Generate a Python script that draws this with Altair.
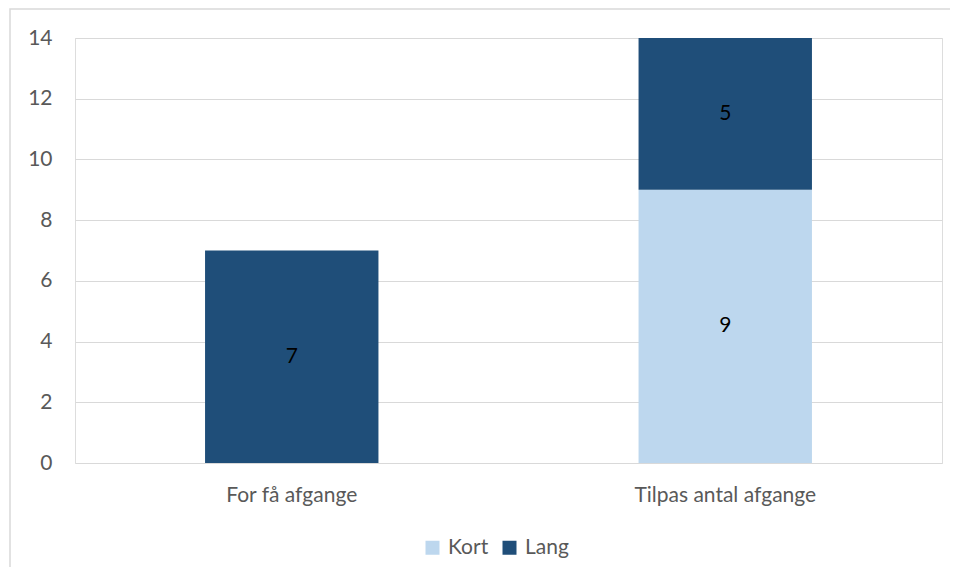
import altair as alt
import pandas as pd

categories = ["For få afgange", "Tilpas antal afgange"]
series = ["Kort", "Lang"]
kort_values = [0, 9]
lang_values = [7, 5]
y_ticks = [0, 2, 4, 6, 8, 10, 12, 14]
colors = ["#BDD7EE", "#1F4E79"]

rows = []
for i, c in enumerate(categories):
    rows.append({"kategori": c, "serie": "Kort", "antal": kort_values[i], "ord": 0})
    rows.append({"kategori": c, "serie": "Lang", "antal": lang_values[i], "ord": 1})
df = pd.DataFrame(rows)

W, H = 867, 425
FONT = "Lato"
FS = 21

x = alt.X("kategori:N", sort=categories, title=None,
          scale=alt.Scale(paddingInner=0.6, paddingOuter=0.3),
          axis=alt.Axis(labelAngle=0, labelFontSize=FS, labelColor="#595959", labelFont=FONT,
                        labelPadding=21, labelLimit=0, ticks=False, domain=False))

base = alt.Chart(df)

bars = base.mark_bar(stroke=None).encode(
    x=x,
    y=alt.Y("antal:Q", stack="zero", title=None,
            scale=alt.Scale(domain=[0, 14], nice=False),
            axis=alt.Axis(values=y_ticks, labelFontSize=FS, labelColor="#595959", labelFont=FONT,
                          labelPadding=23, ticks=False, domain=False,
                          gridColor="#D9D9D9", gridWidth=1)),
    color=alt.Color("serie:N", sort=series,
                    scale=alt.Scale(domain=series, range=colors),
                    legend=alt.Legend(title=None, orient="none", legendX=347, legendY=499,
                                      direction="horizontal", symbolType="square",
                                      symbolSize=196, symbolStrokeWidth=0,
                                      labelFontSize=FS, labelColor="#595959", labelFont=FONT,
                                      columnPadding=10, labelOffset=5)),
    order=alt.Order("ord:Q", sort="ascending"),
)

labels = base.transform_filter("datum.antal > 0").transform_stack(
    stack="antal", groupby=["kategori"], as_=["y0", "y1"],
    sort=[alt.SortField("ord", order="ascending")]
).transform_calculate(mid="(datum.y0 + datum.y1) / 2").mark_text(
    fontSize=FS, color="#000000", font=FONT, baseline="middle"
).encode(
    x=alt.X("kategori:N", sort=categories),
    y=alt.Y("mid:Q"),
    text=alt.Text("antal:Q"),
)

border = alt.Chart(pd.DataFrame({"d": [0]})).mark_rect(
    fill=None, stroke="#D9D9D9", strokeWidth=1.5, clip=False
).encode(
    x=alt.value(-65), x2=alt.value(W + 40),
    y=alt.value(-29), y2=alt.value(H + 200),
)

chart = alt.layer(border, bars, labels).properties(
    width=W, height=H,
    autosize=alt.AutoSizeParams(type="none"),
    padding={"left": 67, "top": 30, "right": 8, "bottom": 104},
).configure_view(stroke=None).configure(background="#FFFFFF")

chart.save("out.html", embed_options={"renderer": "svg", "actions": False})
